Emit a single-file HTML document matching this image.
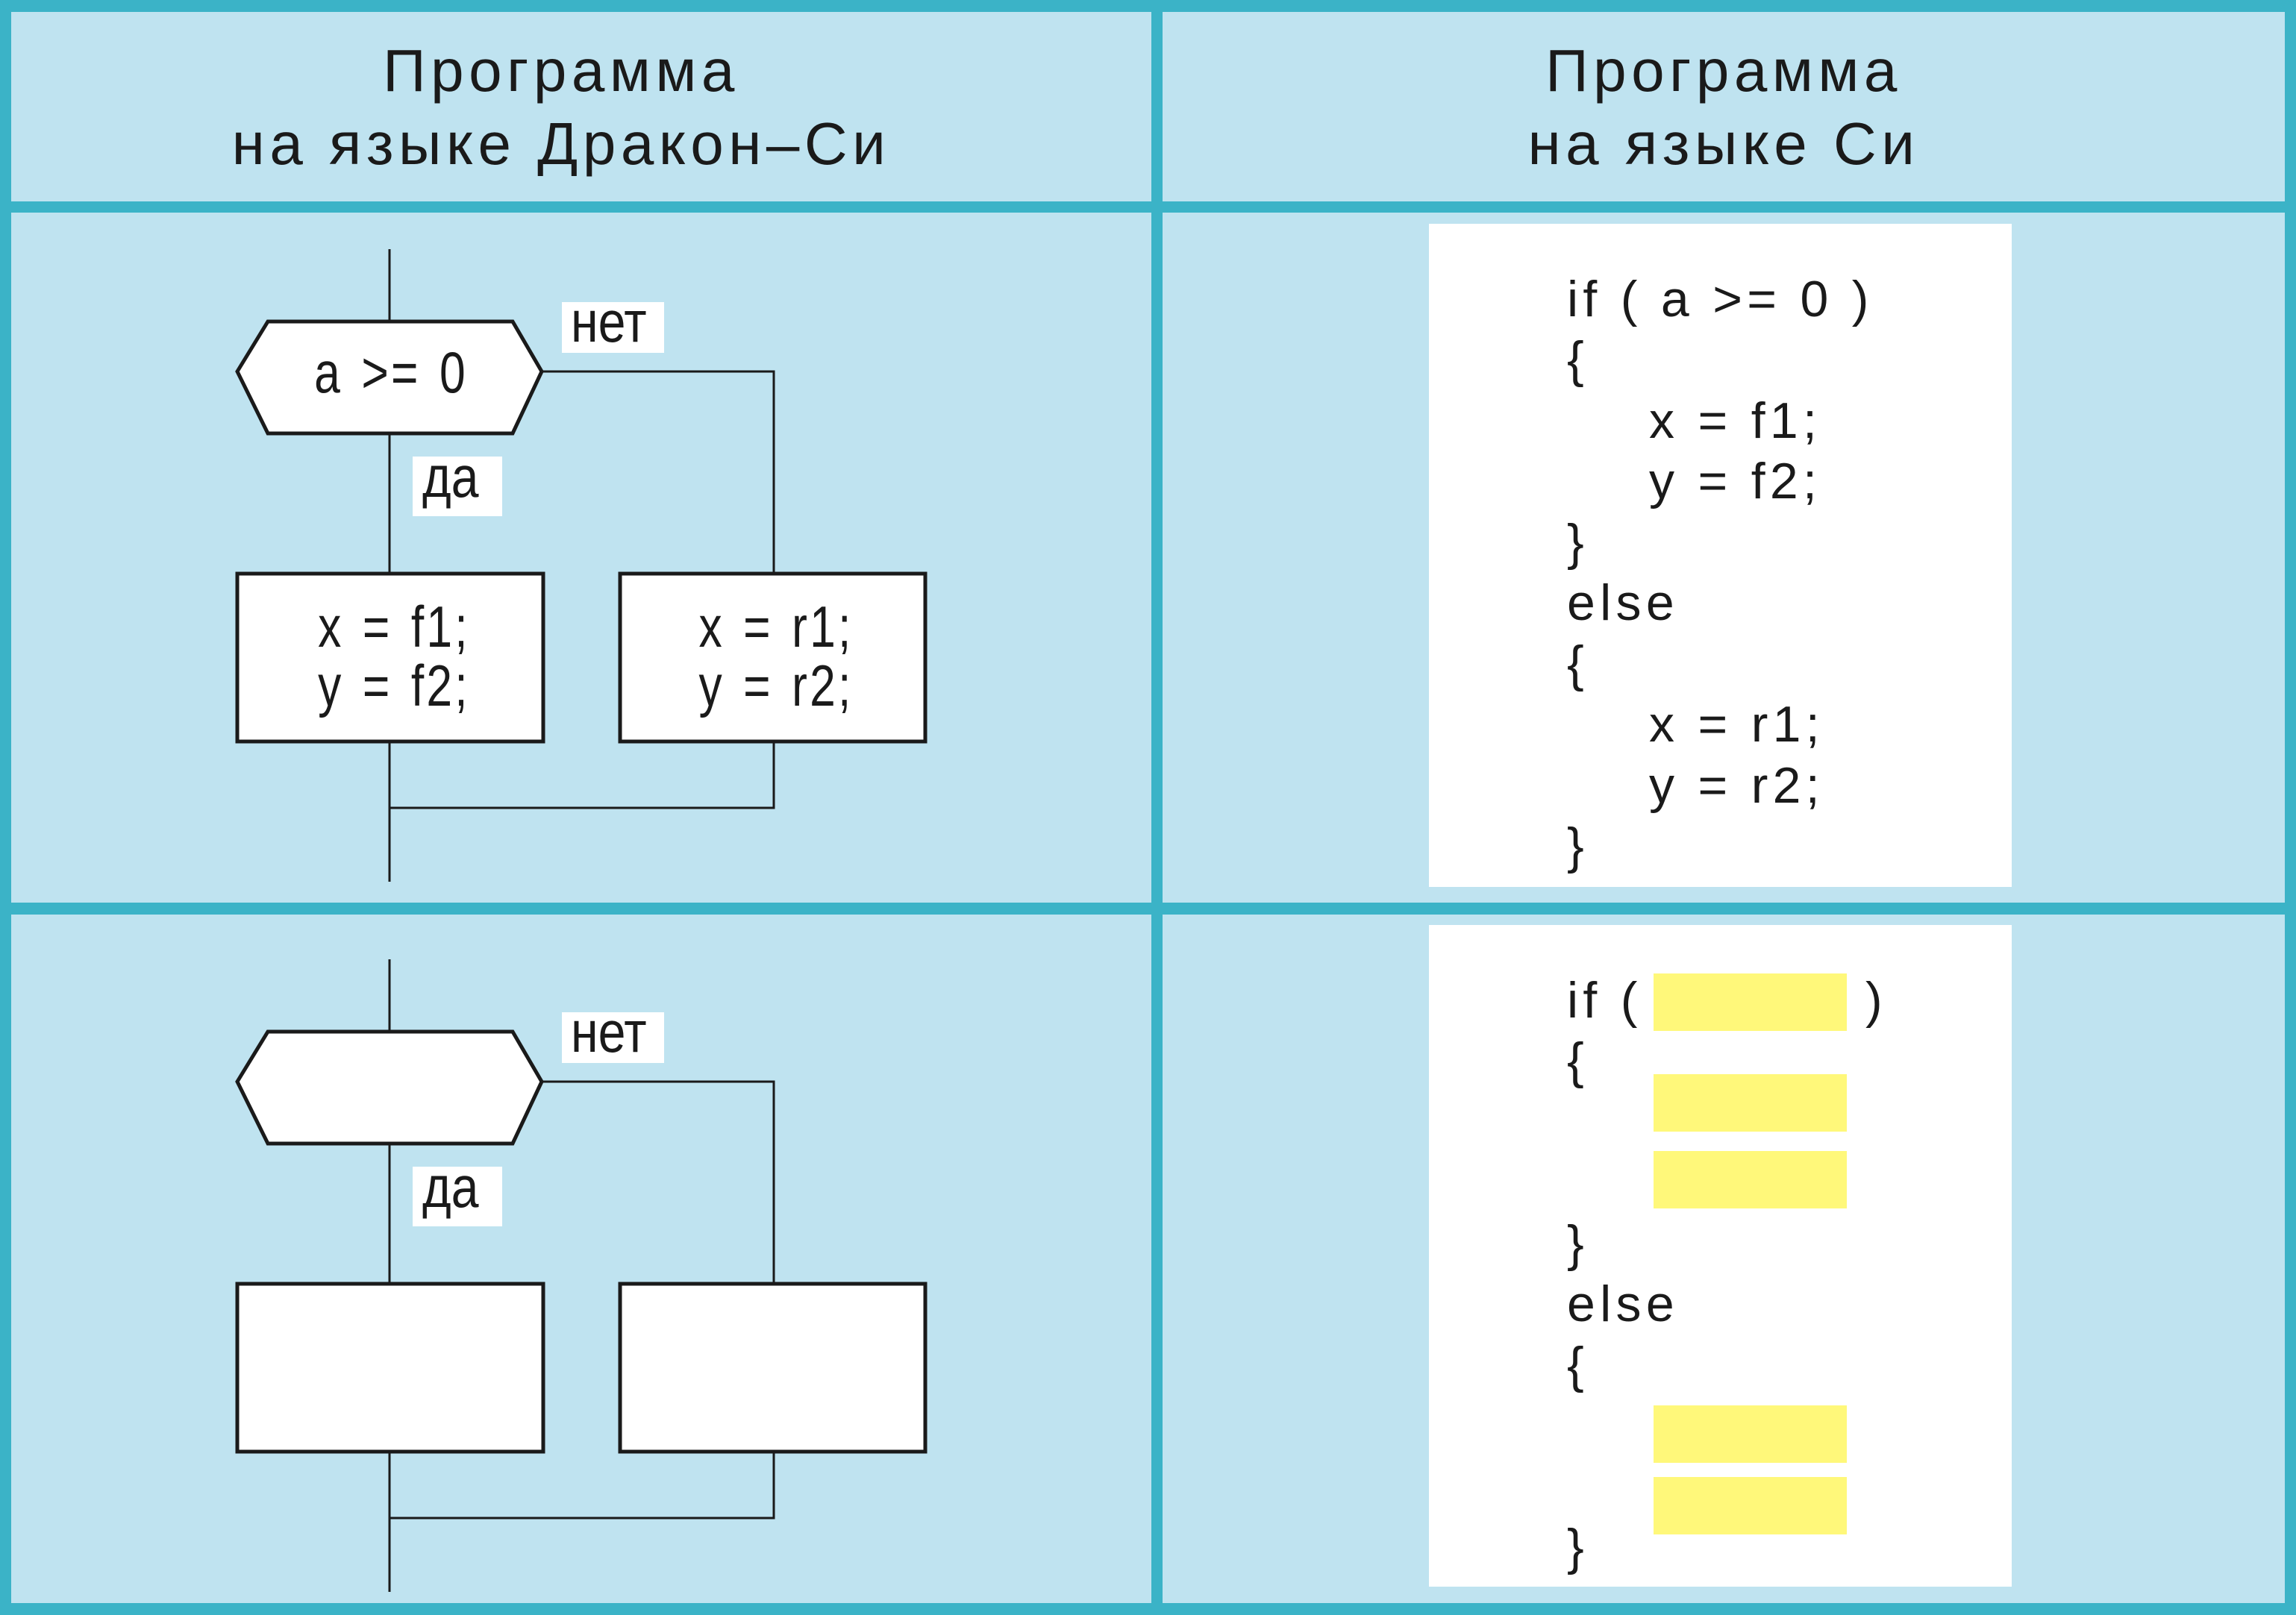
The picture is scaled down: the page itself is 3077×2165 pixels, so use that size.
<!DOCTYPE html>
<html><head><meta charset="utf-8"><style>
html,body{margin:0;padding:0;background:#bfe3f0;}
svg{display:block}
.h{font-family:"Liberation Sans",sans-serif;font-size:80px;letter-spacing:6.5px;fill:#1a1a1a}
.n{font-family:"Liberation Sans",sans-serif;font-size:78px;fill:#1a1a1a}
.t{letter-spacing:4px;word-spacing:6px}
.c{font-family:"Liberation Sans",sans-serif;font-size:68px;letter-spacing:6.3px;fill:#1a1a1a}
</style></head><body>
<svg width="3077" height="2165" viewBox="0 0 3077 2165" xmlns="http://www.w3.org/2000/svg">
<rect width="3077" height="2165" fill="#bfe3f0"/>
<g fill="#3bb3c7">
<rect x="0" y="0" width="3077" height="16"/>
<rect x="0" y="2149" width="3077" height="16"/>
<rect x="0" y="0" width="15" height="2165"/>
<rect x="3062" y="0" width="15" height="2165"/>
<rect x="1543" y="0" width="15" height="2165"/>
<rect x="0" y="270" width="3077" height="15"/>
<rect x="0" y="1210" width="3077" height="16"/>
</g>
<text class="h" x="752" y="122" text-anchor="middle">Программа</text>
<text class="h" x="752" y="220" text-anchor="middle">на языке Дракон–Си</text>
<text class="h" x="2310" y="122" text-anchor="middle">Программа</text>
<text class="h" x="2310" y="220" text-anchor="middle">на языке Си</text>

<g id="fc1">
<line x1="522" y1="334" x2="522" y2="1182" stroke="#1a1a1a" stroke-width="3"/>
<polyline points="726,498 1037,498 1037,769" fill="none" stroke="#1a1a1a" stroke-width="3"/>
<polyline points="1037,994 1037,1083 522,1083" fill="none" stroke="#1a1a1a" stroke-width="3"/>
<polygon points="318,498 359,431 687,431 726,498 687,581 359,581" fill="#fff" stroke="#1a1a1a" stroke-width="5"/>
<rect x="318" y="769" width="410" height="225" fill="#fff" stroke="#1a1a1a" stroke-width="5"/>
<rect x="831" y="769" width="409" height="225" fill="#fff" stroke="#1a1a1a" stroke-width="5"/>
<rect x="753" y="405" width="137" height="68" fill="#fff"/>
<text class="n" transform="translate(765,458) scale(0.85,1)" font-size="72">нет</text>
<rect x="553" y="612" width="120" height="80" fill="#fff"/>
<text class="n" transform="translate(566,666) scale(0.85,1)" font-size="72">да</text>
</g>
<text class="n t" transform="translate(524,526) scale(0.8,1)" text-anchor="middle">a &gt;= 0</text>
<text class="n t" transform="translate(528,867) scale(0.8,1)" text-anchor="middle">x = f1;</text>
<text class="n t" transform="translate(528,946) scale(0.8,1)" text-anchor="middle">y = f2;</text>
<text class="n t" transform="translate(1040,867) scale(0.8,1)" text-anchor="middle">x = r1;</text>
<text class="n t" transform="translate(1040,946) scale(0.8,1)" text-anchor="middle">y = r2;</text>
<use href="#fc1" y="952"/>

<rect x="1915" y="300" width="781" height="889" fill="#fff"/>
<g class="c">
<text x="2100" y="424">if ( a &gt;= 0 )</text>
<text x="2100" y="505">{</text>
<text x="2210" y="587">x = f1;</text>
<text x="2210" y="668">y = f2;</text>
<text x="2100" y="750">}</text>
<text x="2100" y="831">else</text>
<text x="2100" y="913">{</text>
<text x="2210" y="994">x = r1;</text>
<text x="2210" y="1076">y = r2;</text>
<text x="2100" y="1157">}</text>
</g>

<rect x="1915" y="1240" width="781" height="887" fill="#fff"/>
<g fill="#fff87a">
<rect x="2216" y="1305" width="259" height="77"/>
<rect x="2216" y="1440" width="259" height="77"/>
<rect x="2216" y="1543" width="259" height="77"/>
<rect x="2216" y="1884" width="259" height="77"/>
<rect x="2216" y="1980" width="259" height="77"/>
</g>
<g class="c">
<text x="2100" y="1364">if (</text>
<text x="2500" y="1364">)</text>
<text x="2100" y="1445">{</text>
<text x="2100" y="1690">}</text>
<text x="2100" y="1771">else</text>
<text x="2100" y="1853">{</text>
<text x="2100" y="2097">}</text>
</g>
</svg>
</body></html>
